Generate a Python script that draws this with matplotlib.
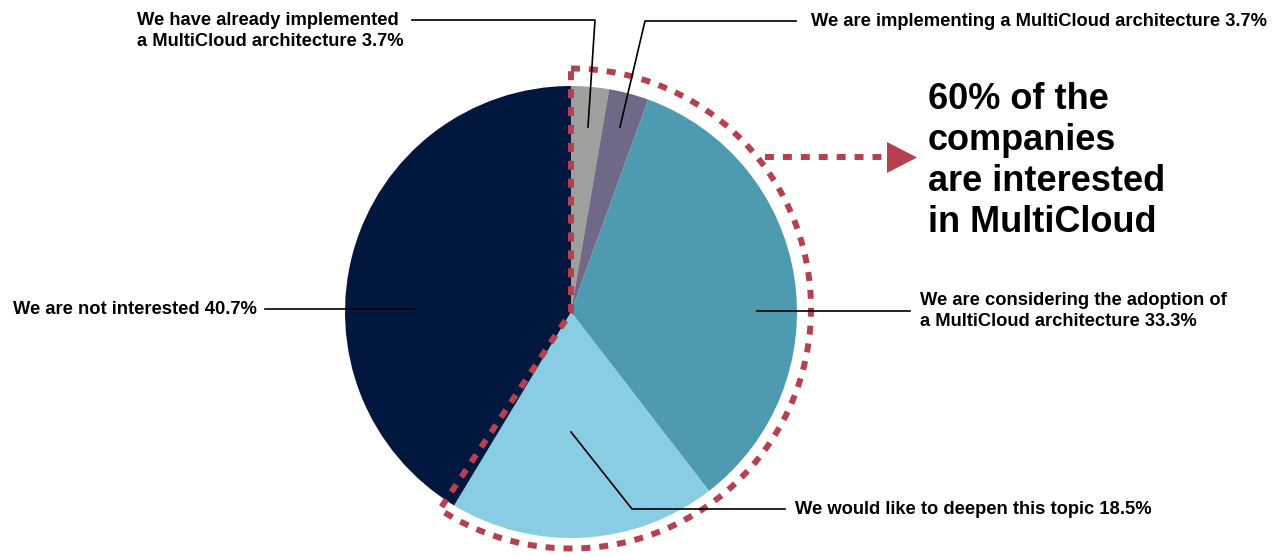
import numpy as np
import matplotlib
matplotlib.use("Agg")
from matplotlib import pyplot as plt
from matplotlib.patches import Polygon

# --- data ---
labels = ["We have already implemented\na MultiCloud architecture 3.7%",
          "We are implementing a MultiCloud architecture 3.7%",
          "We are considering the adoption of\na MultiCloud architecture 33.3%",
          "We would like to deepen this topic 18.5%",
          "We are not interested 40.7%"]
# slice sizes as drawn in the picture (the labels carry the stated percentages)
values = [2.7, 2.85, 34.0, 19.1, 41.35]
colors = ["#a09f9d", "#6f6887", "#4e9ab0", "#88cde3", "#02173d"]
callout = "60% of the\ncompanies\nare interested\nin MultiCloud"

W, H = 1283, 555
RED = "#b5404f"
plt.rcParams['font.family'] = ['Liberation Sans', 'DejaVu Sans']

def py(y):
    return H - y

fig = plt.figure(figsize=(W / 100, H / 100), dpi=100)
ax = fig.add_axes([0, 0, 1, 1])

cx, cy, r = 571, py(312), 226
ax.pie(values, colors=colors, startangle=90, counterclock=False,
       center=(cx, cy), radius=r, wedgeprops=dict(linewidth=0))
ax.set_xlim(0, W); ax.set_ylim(0, H); ax.set_aspect('auto'); ax.axis('off')

# --- dashed outline round the "interested" slices ---
interested = sum(values[:4])
a_end = 90 - 360 * interested / 100.0
rcx, rcy, R = 571, py(308.5), 240
t = np.radians(np.linspace(90, a_end - 2, 300))
xs = list(rcx + R * np.cos(t)) + [cx, cx]
ys = list(rcy + R * np.sin(t)) + [cy, rcy + R]
dash = dict(color=RED, lw=4.3, linestyle=(0, (1.5, 1.5)), solid_capstyle='butt', dash_capstyle='butt')
ax.plot(xs, ys, **dash)

# arrow
ax.plot([765, 887], [py(157), py(157)], **dash)
ax.add_patch(Polygon([(887, py(142)), (887, py(173)), (917, py(157.5))], closed=True, color=RED, lw=0))

ax.text(928, py(82), callout, fontsize=26, fontweight='bold', va='top', ha='left', linespacing=1.22)

# --- labels and leader lines ---
lc = dict(color='black', lw=1.2)
fs = 13.2
ax.plot([412, 595, 588], [py(20), py(20), py(127)], **lc)
ax.text(137, py(12), labels[0], fontsize=fs, fontweight='bold', va='top', ha='left', linespacing=1.3)

ax.plot([620, 645, 796], [py(127), py(21), py(21)], **lc)
ax.text(811, py(22), labels[1], fontsize=fs, fontweight='bold', va='center', ha='left')

ax.plot([757, 910], [py(311), py(311)], **lc)
ax.text(920, py(292), labels[2], fontsize=fs, fontweight='bold', va='top', ha='left', linespacing=1.3)

ax.plot([571, 632, 785], [py(432), py(509), py(509)], **lc)
ax.text(795, py(509), labels[3], fontsize=fs, fontweight='bold', va='center', ha='left')

ax.plot([265, 415], [py(309), py(309)], **lc)
ax.text(257, py(309), labels[4], fontsize=fs, fontweight='bold', va='center', ha='right')

fig.savefig("out.png", dpi=100)
